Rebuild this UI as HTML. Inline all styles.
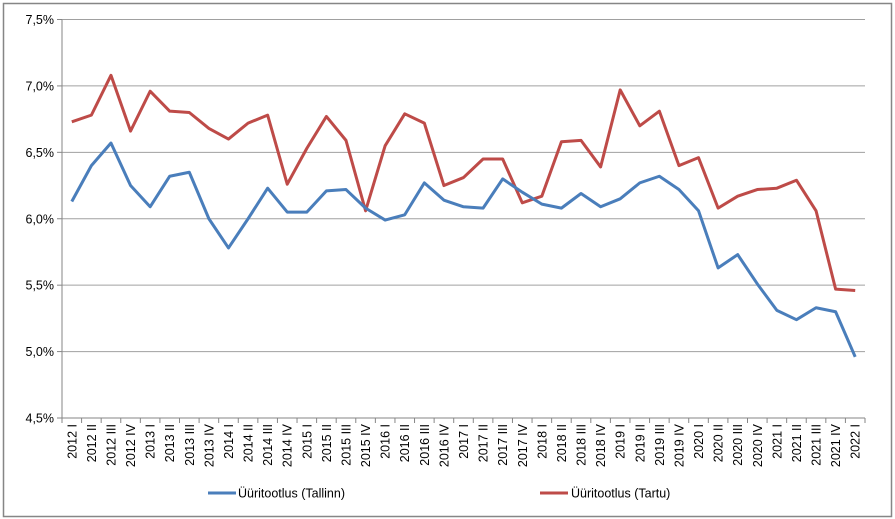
<!DOCTYPE html>
<html><head><meta charset="utf-8"><style>
body{margin:0;background:#fff;}
svg{display:block;font-family:"Liberation Sans","DejaVu Sans",sans-serif;}
</style></head><body>
<svg id="chart" width="895" height="519">
<rect x="3.5" y="3.5" width="888" height="513" fill="#fff" stroke="#868686" stroke-width="1.5"/>
<g id="grid"></g><g id="axes"></g><g id="series"></g>
<g>
<line x1="208" y1="493" x2="236" y2="493" stroke="#4a7ebb" stroke-width="3"/>
<text x="238" y="497.5" font-size="12.5" fill="#000">Üüritootlus (Tallinn)</text>
<line x1="540" y1="493" x2="568" y2="493" stroke="#be4b48" stroke-width="3"/>
<text x="571" y="497.5" font-size="12.5" fill="#000">Üüritootlus (Tartu)</text>
</g>
</svg>
<script>
const categories=["2012 I","2012 II","2012 III","2012 IV","2013 I","2013 II","2013 III","2013 IV","2014 I","2014 II","2014 III","2014 IV","2015 I","2015 II","2015 III","2015 IV","2016 I","2016 II","2016 III","2016 IV","2017 I","2017 II","2017 III","2017 IV","2018 I","2018 II","2018 III","2018 IV","2019 I","2019 II","2019 III","2019 IV","2020 I","2020 II","2020 III","2020 IV","2021 I","2021 II","2021 III","2021 IV","2022 I"];
const tallinn=[6.13,6.40,6.57,6.25,6.09,6.32,6.35,6.00,5.78,6.00,6.23,6.05,6.05,6.21,6.22,6.08,5.99,6.03,6.27,6.14,6.09,6.08,6.30,6.20,6.11,6.08,6.19,6.09,6.15,6.27,6.32,6.22,6.06,5.63,5.73,5.51,5.31,5.24,5.33,5.30,4.96];
const tartu=[6.73,6.78,7.08,6.66,6.96,6.81,6.80,6.68,6.60,6.72,6.78,6.26,6.53,6.77,6.59,6.06,6.55,6.79,6.72,6.25,6.31,6.45,6.45,6.12,6.17,6.58,6.59,6.39,6.97,6.70,6.81,6.40,6.46,6.08,6.17,6.22,6.23,6.29,6.06,5.47,5.46];
const yTicks=[4.5,5.0,5.5,6.0,6.5,7.0,7.5];
const NS="http://www.w3.org/2000/svg";
const L=62,R=865,T=19.5,B=418,yMin=4.5,yMax=7.5;
const step=(R-L)/categories.length;
const x=i=>L+step*(i+0.5);
const y=v=>B-(v-yMin)/(yMax-yMin)*(B-T);
function mk(tag,attrs,parent){const e=document.createElementNS(NS,tag);for(const k in attrs)e.setAttribute(k,attrs[k]);parent.appendChild(e);return e;}
const grid=document.getElementById('grid'),axes=document.getElementById('axes'),ser=document.getElementById('series');
yTicks.forEach(t=>{
 const gl=mk('line',{x1:L,x2:R,y1:y(t),y2:y(t),stroke:'#a0a0a0','stroke-width':1},grid);
 
 
 mk('line',{x1:L-5,x2:L,y1:y(t),y2:y(t),stroke:'#868686'},axes);
 const tx=mk('text',{x:L-8,y:y(t)+4.5,'text-anchor':'end','font-size':'12.5',fill:'#000'},axes);
 tx.textContent=t.toFixed(1).replace('.',',')+'%';
 
 
});
const ya=mk('line',{x1:L,x2:L,y1:T,y2:B,stroke:'#868686'},axes);


const xa=mk('line',{x1:L,x2:R,y1:B,y2:B,stroke:'#868686'},axes);


for(let i=0;i<=categories.length;i++)mk('line',{x1:L+step*i,x2:L+step*i,y1:B,y2:B+5,stroke:'#868686'},axes);
categories.forEach((c,i)=>{
 const tx=mk('text',{transform:`translate(${x(i)+4.5},${B+6}) rotate(-90)`,'text-anchor':'end','font-size':'12.5',fill:'#000'},axes);
 tx.textContent=c;
 
 
});
function line(vals,color,name){
 const p=mk('polyline',{points:vals.map((v,i)=>x(i)+','+y(v)).join(' '),fill:'none',stroke:color,'stroke-width':3,'stroke-linejoin':'round'},ser);
 
 
}
line(tartu,'#be4b48','series-tartu');
line(tallinn,'#4a7ebb','series-tallinn');
</script>
</body></html>
